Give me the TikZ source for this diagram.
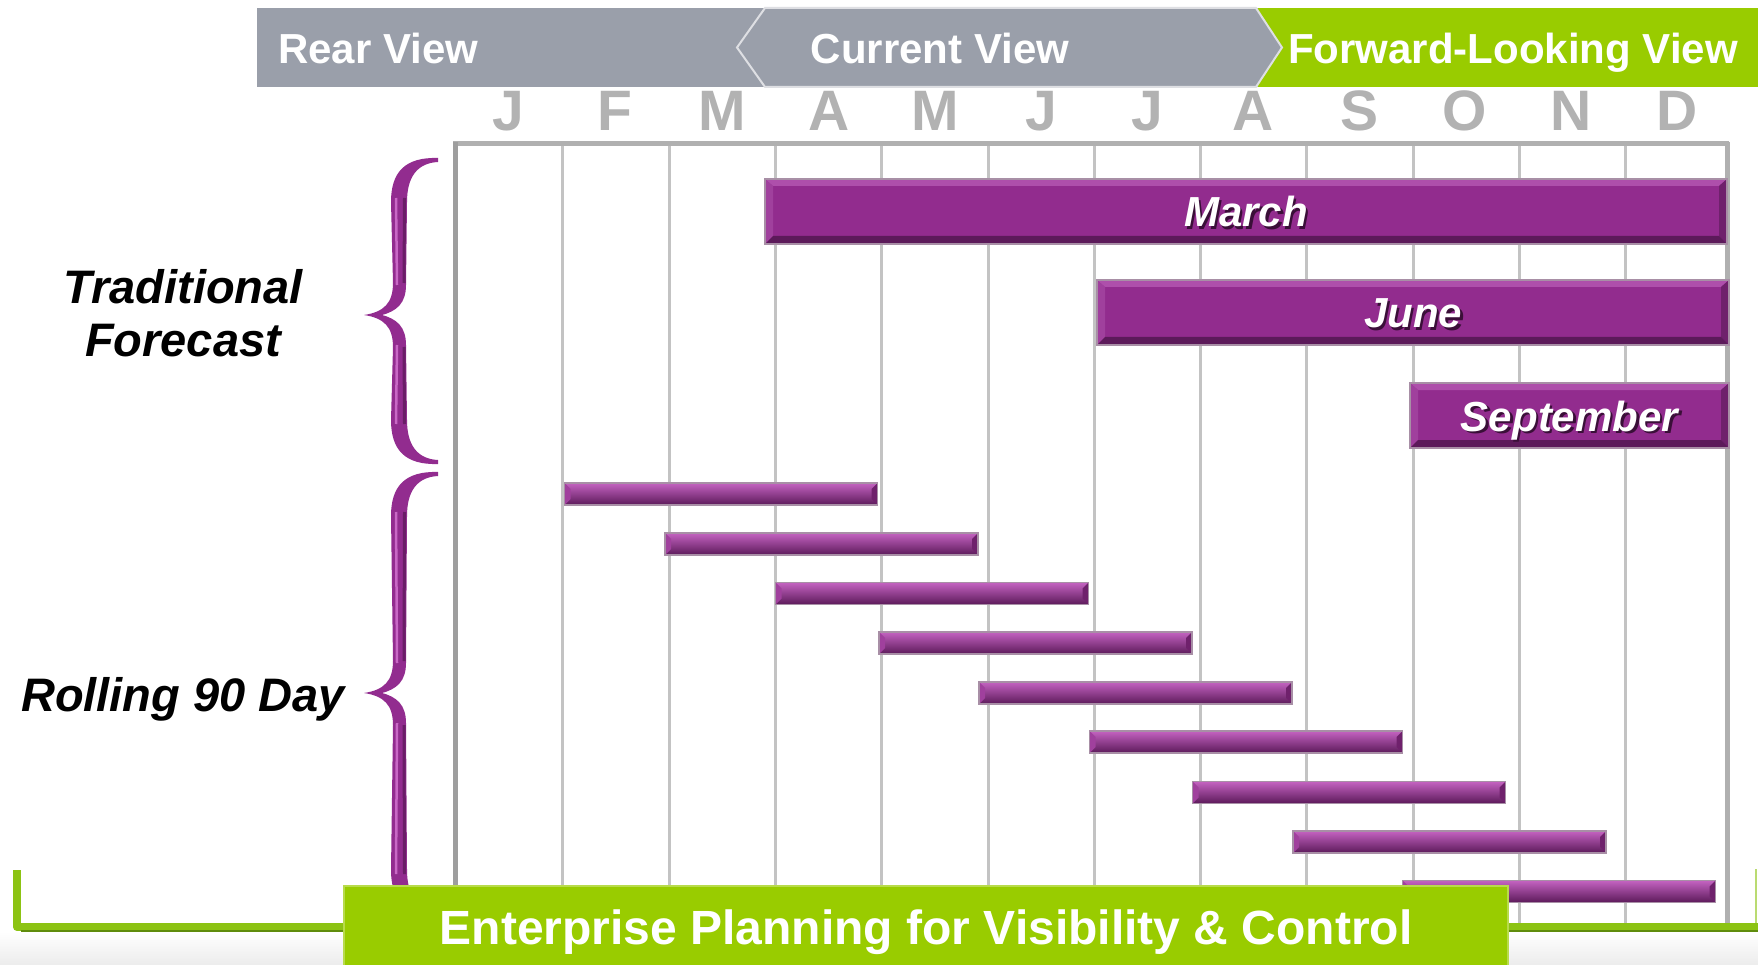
\documentclass[tikz,border=0pt]{standalone}
\usepackage{fontspec}
\setmainfont{Liberation Sans}
\usepackage{tikz}

\definecolor{bannerGray}{HTML}{9A9FAA}
\definecolor{chevronRim}{HTML}{DEDFE3}
\definecolor{viewGreen}{HTML}{99CC00}
\definecolor{monthGray}{HTML}{B2B2B2}
\definecolor{gridGray}{HTML}{C3C3C3}
\definecolor{borderGray}{HTML}{B0B0B0}
\definecolor{barPurple}{HTML}{922C8E}
\definecolor{barLight}{HTML}{AE4FAB}
\definecolor{barSide}{HTML}{A0409D}
\definecolor{barDark}{HTML}{5C1A5A}
\definecolor{barDeep}{HTML}{6F216C}
\definecolor{barRim}{HTML}{A88FA6}
\definecolor{rollTop}{HTML}{C463C1}
\definecolor{rollMid}{HTML}{98339A}
\definecolor{labelShadow}{HTML}{3A0F38}
\definecolor{braceFill}{HTML}{922C8F}
\definecolor{braceHi}{HTML}{C968C6}
\definecolor{braceDark}{HTML}{6A1D67}
\definecolor{lineGreen}{HTML}{8CC313}
\definecolor{lineDark}{HTML}{5F8C0C}
\definecolor{floorGray}{HTML}{ECECEC}

\newcommand{\shadowtext}[1]{\makebox[0pt][l]{\hspace{2.5pt}\raisebox{-2.5pt}{\textcolor{labelShadow}{#1}}}#1}
% curly brace, top end / tip / bottom end
\newcommand{\purplebrace}[3]{%
  \fill[braceFill] (438,#1) .. controls (405,#1-1) and (391,#1+14) .. (391,#1+44)
    -- (393,#2-32) .. controls (393,#2-12) and (384,#2-3) .. (364,#2)
    .. controls (384,#2+3) and (393,#2+12) .. (393,#2+32)
    -- (391,#3-44) .. controls (391,#3-14) and (405,#3+1) .. (438,#3)
    -- (438,#3-4) .. controls (418,#3-5) and (407,#3-18) .. (407,#3-44)
    -- (406,#2+30) .. controls (406,#2+12) and (397,#2+4) .. (382,#2)
    .. controls (397,#2-4) and (406,#2-12) .. (406,#2-30)
    -- (407,#1+44) .. controls (407,#1+18) and (418,#1+5) .. (438,#1+4) -- cycle;
  \draw[braceDark, line width=3pt] (404.5,#1+40) -- (404,#2-32);
  \draw[braceDark, line width=3pt] (404,#2+32) -- (404.5,#3-40);
  \draw[braceHi, line width=2.5pt] (396,#1+40) -- (397,#2-30);
  \draw[braceHi, line width=2.5pt] (397,#2+30) -- (396,#3-40);}

\begin{document}
\begin{tikzpicture}[x=1pt,y=-1pt,
    view label/.style={text=white,font=\fontsize{42}{48}\selectfont\bfseries,anchor=base,inner sep=0pt},
    month node/.style={text=monthGray,font=\fontsize{57}{60}\selectfont\bfseries,anchor=base,inner sep=0pt},
    grid line/.style={draw=gridGray,line width=3pt},
    border line/.style={draw=borderGray,line width=5pt},
    big bar/.style={rectangle,fill=barPurple,draw=barRim,line width=1.5pt,inner sep=0pt,minimum height=65pt,
      text=white,font=\fontsize{42}{48}\selectfont\bfseries\itshape,text height=31pt,text depth=0pt,
      path picture={
        \path (path picture bounding box.north west) coordinate (pnw) (path picture bounding box.north east) coordinate (pne)
              (path picture bounding box.south west) coordinate (psw) (path picture bounding box.south east) coordinate (pse);
        \fill[barLight] (pnw) -- (pne) -- ([shift={(-8pt,-7pt)}]pne) -- ([shift={(8pt,-7pt)}]pnw) -- cycle;
        \fill[barSide] (pnw) -- ([shift={(8pt,-7pt)}]pnw) -- ([shift={(8pt,8pt)}]psw) -- (psw) -- cycle;
        \fill[barDeep] (pne) -- ([shift={(-8pt,-7pt)}]pne) -- ([shift={(-8pt,8pt)}]pse) -- (pse) -- cycle;
        \fill[barDark] (psw) -- (pse) -- ([shift={(-8pt,8pt)}]pse) -- ([shift={(8pt,8pt)}]psw) -- cycle;}},
    roll bar/.style={rectangle,top color=rollTop,middle color=rollMid,bottom color=barDark,draw=barRim,
      line width=1.5pt,inner sep=0pt,minimum height=22pt,minimum width=313pt,
      path picture={
        \fill[barDeep] (path picture bounding box.north east) -- ([shift={(-6pt,-6pt)}]path picture bounding box.north east)
          -- ([shift={(-6pt,6pt)}]path picture bounding box.south east) -- (path picture bounding box.south east) -- cycle;
        \fill[barSide] (path picture bounding box.north west) -- ([shift={(6pt,-6pt)}]path picture bounding box.north west)
          -- ([shift={(6pt,6pt)}]path picture bounding box.south west) -- (path picture bounding box.south west) -- cycle;}},
    side label/.style={text=black,font=\fontsize{47}{53}\selectfont\bfseries\itshape,inner sep=0pt},
    plan box/.style={rectangle,fill=viewGreen,draw=viewGreen!70!white,line width=2pt,text=white,
      font=\fontsize{48}{54}\selectfont\bfseries,text height=35pt,text depth=0pt,minimum width=1164pt,minimum height=82pt}]
  \useasboundingbox (0,0) rectangle (1758,965);
  \fill[white] (0,0) rectangle (1758,965);
  \shade[top color=white,bottom color=floorGray] (0,932) rectangle (1758,965);

  % banner
  \fill[bannerGray] (257,8) rectangle (1262,87);
  \fill[viewGreen] (1258,8) rectangle (1758,87);
  \filldraw[fill=bannerGray,draw=chevronRim,line width=2pt] (737,47.5) -- (765,8) -- (1256,8) -- (1282,47.5) -- (1256,87) -- (765,87) -- cycle;
  \node[view label,anchor=base west] (rear) at (278,64) {Rear View};
  \node[view label] (current) at (940,64) {Current View};
  \node[view label] (forward) at (1513,64) {Forward-Looking View};

  % months
  \node[month node] (jan) at (508,131) {J};
  \node[month node] (feb) at (615,131) {F};
  \node[month node] (mar) at (722,131) {M};
  \node[month node] (apr) at (829,131) {A};
  \node[month node] (may) at (935,131) {M};
  \node[month node] (jun) at (1041,131) {J};
  \node[month node] (jul) at (1147,131) {J};
  \node[month node] (aug) at (1253,131) {A};
  \node[month node] (sep) at (1359,131) {S};
  \node[month node] (oct) at (1465,131) {O};
  \node[month node] (nov) at (1571,131) {N};
  \node[month node] (dec) at (1677,131) {D};

  % grid
  \draw[grid line] (562,143) -- (562,928);
  \draw[grid line] (669,143) -- (669,928);
  \draw[grid line] (775,143) -- (775,928);
  \draw[grid line] (881,143) -- (881,928);
  \draw[grid line] (988,143) -- (988,928);
  \draw[grid line] (1094,143) -- (1094,928);
  \draw[grid line] (1200,143) -- (1200,928);
  \draw[grid line] (1306,143) -- (1306,928);
  \draw[grid line] (1413,143) -- (1413,928);
  \draw[grid line] (1519,143) -- (1519,928);
  \draw[grid line] (1625,143) -- (1625,928);
  \draw[border line] (453,144) -- (1729,144);
  \draw[border line,draw=borderGray!90!black] (455,142) -- (455,928);
  \draw[border line] (1727,142) -- (1727,928);

  % traditional forecast bars
  \node[big bar,minimum width=962pt] (march) at (1246,211.5) {\shadowtext{March}};
  \node[big bar,minimum width=632pt] (june) at (1413,312.5) {\shadowtext{June}};
  \node[big bar,minimum width=319pt] (september) at (1569.5,415.5) {\shadowtext{September}};

  % rolling 90 day bars
  \node[roll bar] (roll1) at (721,494) {};
  \node[roll bar] (roll2) at (821.5,544) {};
  \node[roll bar] (roll3) at (932,593.5) {};
  \node[roll bar] (roll4) at (1035.5,643) {};
  \node[roll bar] (roll5) at (1135.5,693) {};
  \node[roll bar] (roll6) at (1246,742) {};
  \node[roll bar] (roll7) at (1349,792.5) {};
  \node[roll bar] (roll8) at (1449.5,842) {};
  \node[roll bar] (roll9) at (1559,891.5) {};

  % braces and labels
  \purplebrace{158}{315}{464}
  \purplebrace{472}{693}{914}
  \node[side label,align=center] (traditional) at (183,313) {Traditional\\Forecast};
  \node[side label,anchor=base] (rolling) at (183,711) {Rolling 90 Day};

  % bottom bracket and title
  \draw[lineGreen,line width=8pt,line join=round] (17,870) -- (17,927) -- (1758,927);
  \draw[lineDark,line width=2pt] (21,931) -- (1758,931);
  \draw[lineGreen!60!white,line width=1.5pt] (1756,869) -- (1756,923);
  \node[plan box] (plan) at (926,927) {Enterprise Planning for Visibility \& Control};
\end{tikzpicture}
\end{document}
